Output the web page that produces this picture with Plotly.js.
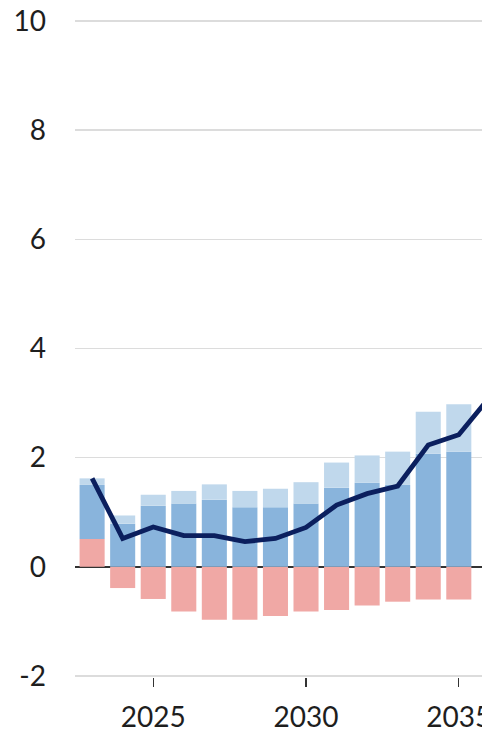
<!DOCTYPE html>
<html>
<head>
<meta charset="utf-8">
<script src="https://cdn.plot.ly/plotly-3.0.1.min.js"></script>
<style>html,body{margin:0;padding:0;background:#fff;overflow:hidden;width:482px;height:733px}</style>
</head>
<body>
<div id="chart" style="width:530px;height:733px"></div>
<script>
const years = [2023,2024,2025,2026,2027,2028,2029,2030,2031,2032,2033,2034,2035];
const redVals = [0.51,-0.39,-0.59,-0.82,-0.97,-0.97,-0.90,-0.82,-0.79,-0.71,-0.64,-0.60,-0.60];
const midVals = [0.99,0.79,1.12,1.16,1.23,1.09,1.09,1.16,1.45,1.54,1.50,2.07,2.11];
const lightVals = [0.12,0.15,0.20,0.23,0.28,0.30,0.34,0.39,0.46,0.50,0.61,0.77,0.87];
const lineYears = [2023,2024,2025,2026,2027,2028,2029,2030,2031,2032,2033,2034,2035,2036];
const lineVals = [1.62,0.52,0.73,0.57,0.57,0.46,0.52,0.72,1.13,1.34,1.48,2.23,2.42,3.1];
const yTickVals = [-2,0,2,4,6,8,10];
const yTickText = ["-2","0","2","4","6","8","10"];
const xTickVals = [2025,2030,2035];

const barStyle = (c) => ({color:c, line:{width:0}});
const data = [
  {type:'bar', x:years, y:redVals, marker:barStyle('#f0a8a5'), width:0.82, hoverinfo:'skip'},
  {type:'bar', x:years, y:midVals, marker:barStyle('#89b4dc'), width:0.82, hoverinfo:'skip'},
  {type:'bar', x:years, y:lightVals, marker:barStyle('#c0d8ec'), width:0.82, hoverinfo:'skip'},
  {type:'scatter', mode:'lines', x:lineYears, y:lineVals, line:{color:'#0b1f5e', width:4.8}, hoverinfo:'skip'}
];
// plot area 75..530 px at ~30.57 px/yr
const layout = {
  width:530, height:733,
  margin:{l:75, r:0, t:20, b:56},
  paper_bgcolor:'#fff', plot_bgcolor:'#fff',
  showlegend:false,
  barmode:'relative',
  font:{family:'Lato, "Open Sans", sans-serif', size:28, color:'#1e1e1e'},
  xaxis:{range:[2022.44,2037.33], tickvals:xTickVals, ticktext:xTickVals.map(String),
         ticks:'outside', ticklen:9, tickwidth:1.2, tickcolor:'#333',
         showgrid:false, showline:false, zeroline:false, ticklabelstandoff:6,
         tickfont:{size:28, color:'#1e1e1e'}},
  yaxis:{range:[-2.02,10.02], tickvals:yTickVals, ticktext:yTickText,
         showgrid:true, gridcolor:'#dcdcdc', gridwidth:1.5,
         zeroline:true, zerolinecolor:'#333', zerolinewidth:1.5,
         showline:false, ticks:'', ticklabelstandoff:28,
         tickfont:{size:28, color:'#1e1e1e'}}
};
Plotly.newPlot('chart', data, layout, {displayModeBar:false, staticPlot:true});
</script>
</body>
</html>
